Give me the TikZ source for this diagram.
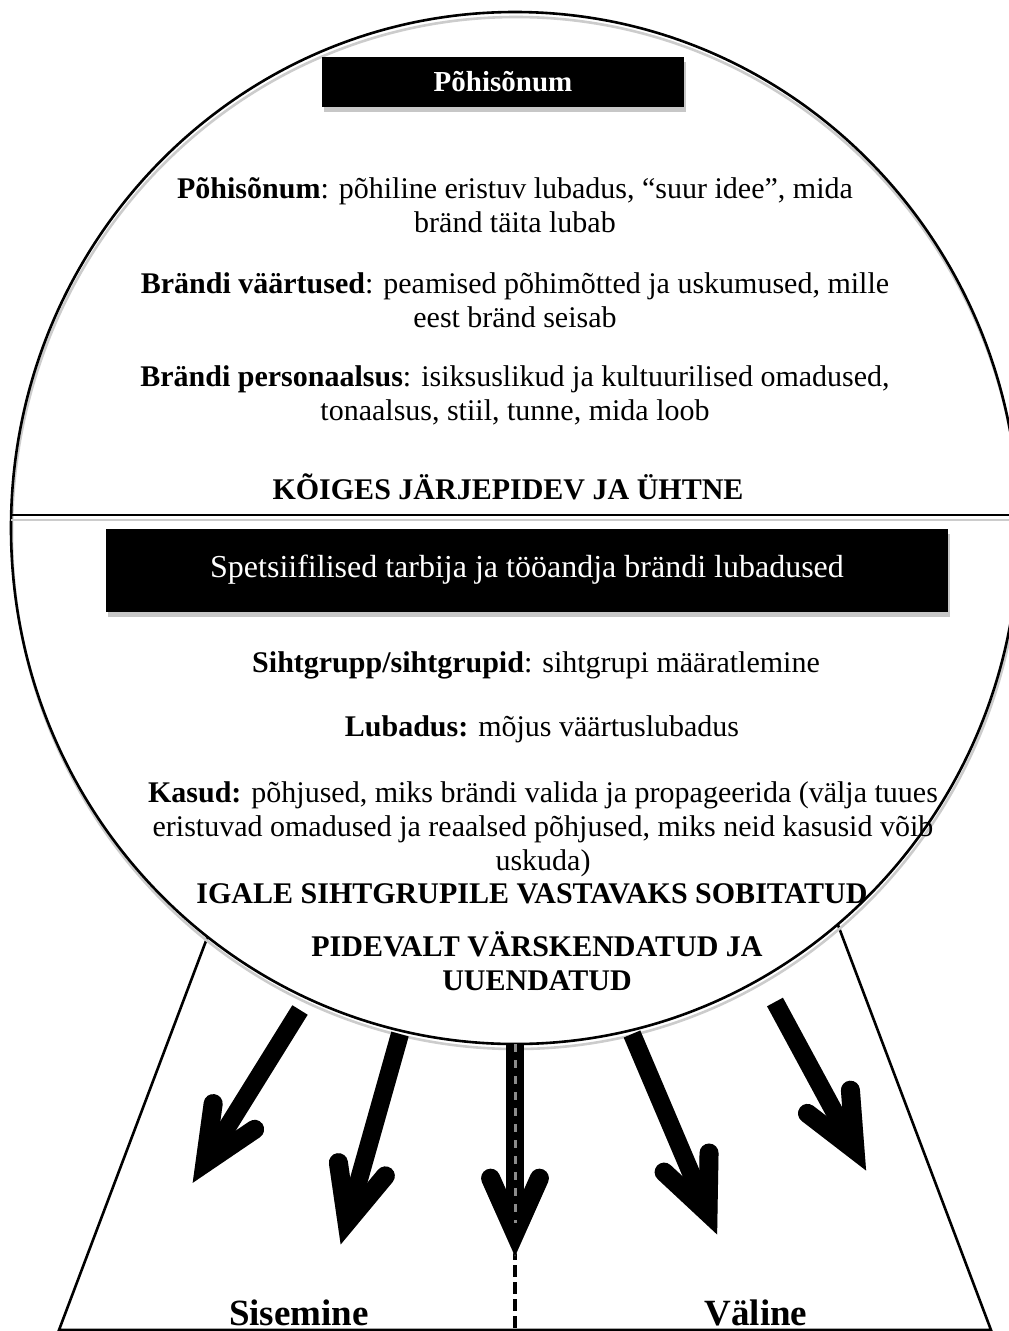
\documentclass[tikz,border=0pt]{standalone}
\usepackage{fontspec}
\setmainfont{Liberation Serif}
\usetikzlibrary{calc,shadows}
\begin{document}
\begin{tikzpicture}[x=1pt,y=-1pt,
  body/.style={font=\fontsize{30}{34}\selectfont, align=center, inner sep=0pt},
  bodyb/.style={font=\fontsize{30}{34}\selectfont\bfseries, align=center, inner sep=0pt},
  blackbox/.style={fill=black, text=white, inner sep=0pt,
     drop shadow={shadow xshift=2pt, shadow yshift=-5pt, fill=black!22, opacity=1}},
  edge/.style={line width=2.6pt},
  shade/.style={line width=2.6pt, black!20},
  shaft/.style={line width=18pt},
  barb/.style={line width=19pt, line cap=round, line join=miter}]
\useasboundingbox (0,0) rectangle (1009,1331);

% ---- trapezoid (stand) ----
\coordinate (bl) at (59,1330);
\coordinate (br) at (991,1330);
\coordinate (tl) at (229,880);
\coordinate (tr) at (821,880);
\draw[edge] (tl) -- (bl) -- (br) -- (tr);

% ---- ellipse ----
\coordinate (c) at (515,528);
\fill[white] (c) ellipse [x radius=504, y radius=516];
\draw[shade] ($(c)+(1,5)$) ellipse [x radius=504, y radius=516];
\draw[edge] (c) ellipse [x radius=504, y radius=516];

% ---- divider ----
\begin{scope}
  \clip (c) ellipse [x radius=504, y radius=516];
  \coordinate (dl) at (0,515);
  \coordinate (dr) at (1009,515);
  \draw[shade] ($(dl)+(0,5)$) -- ($(dr)+(0,5)$);
  \draw[edge] (dl) -- (dr);
\end{scope}

% ---- boxes ----
\node[blackbox, minimum width=362, minimum height=50,
      font=\fontsize{29}{32}\selectfont\bfseries] (b1) at (503,82) {Põhisõnum};
\node[blackbox, minimum width=842, minimum height=83,
      font=\fontsize{32}{36}\selectfont] (b2) at (527,570)
      {Spetsiifilised tarbija ja tööandja brändi lubadused};

% ---- upper texts ----
\node[body] (t1) at (515,205) {\textbf{Põhisõnum}: põhiline eristuv lubadus, “suur idee”, mida\\bränd täita lubab};
\node[body] (t2) at (515,300) {\textbf{Brändi väärtused}: peamised põhimõtted ja uskumused, mille\\eest bränd seisab};
\node[body] (t3) at (515,395) {\textbf{Brändi personaalsus}: isiksuslikud ja kultuurilised omadused,\\tonaalsus, stiil, tunne, mida loob};
\node[bodyb] (t4) at (508,487) {KÕIGES JÄRJEPIDEV JA ÜHTNE};

% ---- lower texts ----
\node[body] (t5) at (536,665) {\textbf{Sihtgrupp/sihtgrupid}: sihtgrupi määratlemine};
\node[body] (t6) at (542,729) {\textbf{Lubadus:} mõjus väärtuslubadus};
\node[body] (t7) at (543,829) {\textbf{Kasud:} põhjused, miks brändi valida ja propageerida (välja tuues\\eristuvad omadused ja reaalsed põhjused, miks neid kasusid võib\\uskuda)};
\node[bodyb] (t8) at (532,894) {IGALE SIHTGRUPILE VASTAVAKS SOBITATUD};
\node[bodyb] (t9) at (537,961) {PIDEVALT VÄRSKENDATUD JA\\UUENDATUD};

% ---- dashed centre line ----
\coordinate (m0) at (515,1044);
\coordinate (m1) at (515,1331);
\draw[line width=4pt, dash pattern=on 12pt off 5pt] (m0) -- (m1);

% ---- arrows ----
\coordinate (a1s) at (300,1010); \coordinate (a1t) at (205,1163);
\coordinate (a2s) at (400,1034); \coordinate (a2t) at (347,1222);
\coordinate (a3s) at (515,1044); \coordinate (a3t) at (515,1233);
\coordinate (a4s) at (632,1034); \coordinate (a4t) at (708,1213);
\coordinate (a5s) at (775,1002); \coordinate (a5t) at (855,1150);
\foreach \s/\t in {a1s/a1t, a2s/a2t, a3s/a3t, a4s/a4t, a5s/a5t}{
  \begin{scope}[shift={(2.5,2)}, black!20]
    \draw[shaft] (\s) -- ($(\t)!6pt!(\s)$);
    \draw[barb] ($(\t)!60pt!24:(\s)$) -- (\t) -- ($(\t)!60pt!-24:(\s)$);
  \end{scope}
  \draw[shaft] (\s) -- ($(\t)!6pt!(\s)$);
  \draw[barb] ($(\t)!60pt!24:(\s)$) -- (\t) -- ($(\t)!60pt!-24:(\s)$);
}
\draw[line width=3pt, black!45, dash pattern=on 8pt off 8pt] (a3s) -- ($(a3t)!10pt!(a3s)$);

% ---- bottom labels ----
\node[font=\fontsize{37}{40}\selectfont\bfseries, anchor=base, inner sep=0pt] (sis) at (299,1325) {Sisemine};
\node[font=\fontsize{37}{40}\selectfont\bfseries, anchor=base, inner sep=0pt] (val) at (756,1325) {Väline};
\end{tikzpicture}
\end{document}
